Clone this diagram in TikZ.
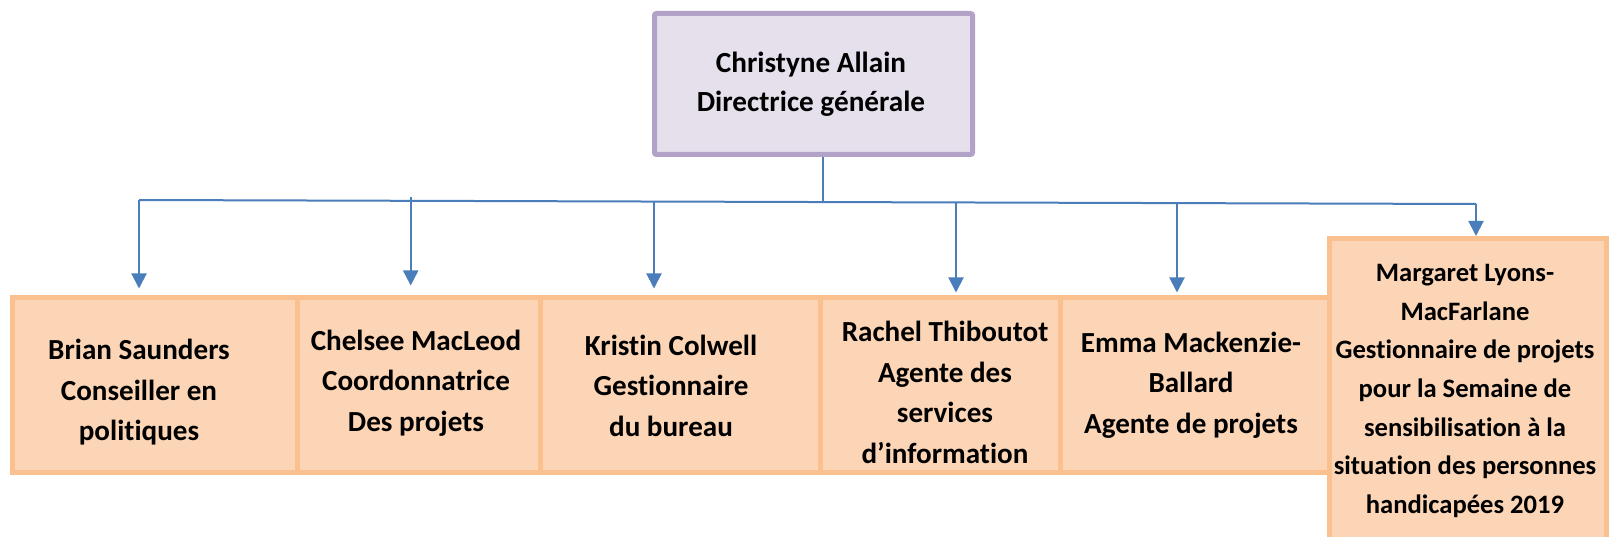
\documentclass[tikz,border=0pt]{standalone}
\usepackage{fontspec}
\setmainfont{Carlito}[Ligatures=NoCommon]
\usetikzlibrary{arrows.meta,calc}
\definecolor{lavfill}{HTML}{E5E0EC}
\definecolor{lavline}{HTML}{B3A2C7}
\definecolor{orfill}{HTML}{FBD5B5}
\definecolor{orline}{HTML}{FAC090}
\definecolor{conn}{HTML}{4A7EBB}
\tikzset{
  topbox/.style={draw=lavline, fill=lavfill, line width=5pt, rounded corners=2pt, inner sep=0pt},
  staffbox/.style={draw=orline, fill=orfill, line width=5pt, inner sep=0pt},
  lbl/.style={align=center, inner sep=0pt, font=\fontsize{29.1}{40.5}\selectfont\bfseries},
  lbltop/.style={align=center, inner sep=0pt, font=\fontsize{29.2}{39.4}\selectfont\bfseries},
  lblsix/.style={align=center, inner sep=0pt, font=\fontsize{26.6}{38.6}\selectfont\bfseries},
  arr/.style={draw=conn, line width=2pt, -{Triangle[width=15pt,length=15pt]}},
  ln/.style={draw=conn, line width=2pt},
}
\begin{document}
\begin{tikzpicture}[x=1pt,y=-1pt]
\clip (0,0) rectangle (1609,537);
\fill[white] (0,0) rectangle (1609,537);
% boxes
\node[topbox, minimum width=318pt, minimum height=141pt] (top) at (813.5,84) {};
\node[staffbox, minimum width=284.5pt, minimum height=175pt] (b1) at (154.75,385) {};
\node[staffbox, minimum width=243pt, minimum height=175pt] (b2) at (418.5,385) {};
\node[staffbox, minimum width=280pt, minimum height=175pt] (b3) at (680,385) {};
\node[staffbox, minimum width=240pt, minimum height=175pt] (b4) at (940,385) {};
\node[staffbox, minimum width=269.5pt, minimum height=175pt] (b5) at (1194.75,385) {};
\node[staffbox, minimum width=277pt, minimum height=330pt] (b6) at (1468,403.5) {};
% texts
\node[lbltop] (ttop) at (811,84.1) {\strut Christyne Allain\\\strut Directrice générale};
\node[lbl] (t1) at (139,392.2) {\strut Brian Saunders\\\strut Conseiller en\\\strut politiques};
\node[lbl] (t2) at (416,382.8) {\strut Chelsee MacLeod\\\strut Coordonnatrice\\\strut Des projets};
\node[lbl] (t3) at (671,387.8) {\strut Kristin Colwell\\\strut Gestionnaire\\\strut du bureau};
\node[lbl] (t4) at (945,394.4) {\strut Rachel Thiboutot\\\strut Agente des\\\strut services\\\strut d’information};
\node[lbl] (t5) at (1191,384.8) {\strut Emma Mackenzie-\\\strut Ballard\\\strut Agente de projets};
\node[lblsix] (t6) at (1465,389.8) {\strut Margaret Lyons-\\\strut MacFarlane\\\strut Gestionnaire de projets\\\strut pour la Semaine de\\\strut sensibilisation à la\\\strut situation des personnes\\\strut handicapées 2019};
% junctions
\coordinate (j1) at (139,200);
\coordinate (j2) at (410.7,197);
\coordinate (j3) at (654,201.5);
\coordinate (jt) at (823,202);
\coordinate (j4) at (956,202.4);
\coordinate (j5) at (1177,203.1);
\coordinate (j6) at (1476,204);
% connectors
\draw[ln] (top.south -| jt) -- (jt);
\draw[ln] (j1) -- (j6);
\draw[arr, shorten >=6.5pt] (j1) -- (j1 |- b1.north);
\draw[arr, shorten >=9.5pt] (j2) -- (j2 |- b2.north);
\draw[arr, shorten >=6.5pt] (j3) -- (j3 |- b3.north);
\draw[arr, shorten >=2.5pt] (j4) -- (j4 |- b4.north);
\draw[arr, shorten >=2.5pt] (j5) -- (j5 |- b5.north);
\draw[arr] (j6) -- (j6 |- b6.north);
\end{tikzpicture}
\end{document}
